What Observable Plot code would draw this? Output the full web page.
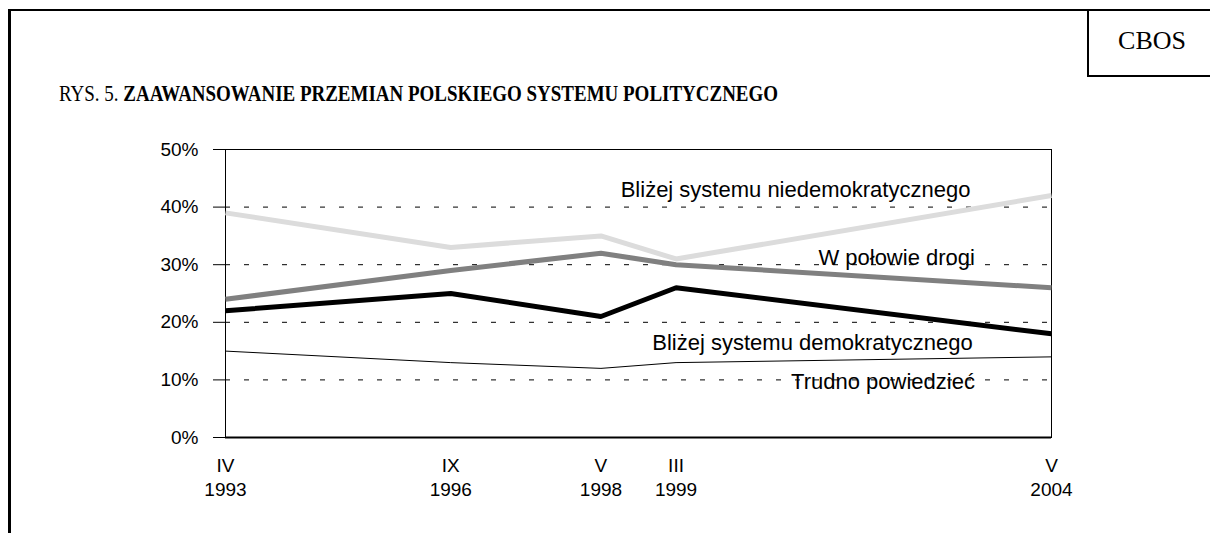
<!DOCTYPE html>
<html>
<head>
<meta charset="utf-8">
<script src="https://cdn.jsdelivr.net/npm/d3@7"></script>
<script src="https://cdn.jsdelivr.net/npm/@observablehq/plot@0.6"></script>
<style>
  html, body { margin: 0; padding: 0; background: #fff; }
  #page { position: relative; width: 1210px; height: 533px; overflow: hidden; }
  #outer { position: absolute; left: 8px; top: 9px; right: -10px; bottom: -10px;
           border-top: 2px solid #000; border-left: 3px solid #000; }
  #cbos { position: absolute; left: 1087px; top: 9px; width: 140px; height: 66px;
          border-left: 2px solid #000; border-bottom: 2px solid #000; }
  #cbos span { position: absolute; left: 63px; top: 32px; transform: translate(-50%, -50%);
               font-family: "Liberation Serif", serif; font-size: 26px; line-height: 26px; color: #000; white-space: nowrap; }
  #title { position: absolute; left: 59px; top: 81px; font-family: "Liberation Serif", serif;
           font-size: 24px; line-height: 24px; color: #000; white-space: nowrap; transform-origin: 0 0; }
  #chart { position: absolute; left: 0; top: 0; }
</style>
</head>
<body>
<div id="page">
  <div id="chart"></div>
  <div id="outer"></div>
  <div id="cbos"><span>CBOS</span></div>
  <div id="title">RYS. 5. <b>ZAAWANSOWANIE PRZEMIAN POLSKIEGO SYSTEMU POLITYCZNEGO</b></div>
</div>
<script>
// Survey periods (category axis with gaps, as in the original category chart)
const months = ["IV", "IX", "V", "III", "V"];
const years = ["1993", "1996", "1998", "1999", "2004"];
const slots = [0, 3, 5, 6, 11];

// Series values (%)
const seriesNames = [
  "Bliżej systemu niedemokratycznego",
  "W połowie drogi",
  "Bliżej systemu demokratycznego",
  "Trudno powiedzieć"
];
const niedemokratyczny = [39, 33, 35, 31, 42];
const wPolowieDrogi = [24, 29, 32, 30, 26];
const demokratyczny = [22, 25, 21, 26, 18];
const trudnoPowiedziec = [15, 13, 12, 13, 14];

const yTicks = [0, 10, 20, 30, 40, 50];
const gridTicks = [10, 20, 30, 40];

// Label anchors (slot, percent)
const labelSlots = [9.92, 9.98, 9.95, 9.98];
const labelValues = [43.0, 31.2, 16.5, 9.7];

const seriesValues = [niedemokratyczny, wPolowieDrogi, demokratyczny, trudnoPowiedziec];
const seriesColors = ["#dcdcdc", "#808080", "#000000", "#000000"];
const seriesWidths = [5, 5, 5, 1];

const rows = [];
seriesNames.forEach((name, s) => {
  seriesValues[s].forEach((v, i) => rows.push({series: name, slot: slots[i], value: v}));
});
const labelRows = seriesNames.map((name, s) => ({text: name, slot: labelSlots[s], value: labelValues[s]}));
const tickLabel = new Map(slots.map((s, i) => [s, months[i] + "\n" + years[i]]));

const lineMarks = seriesNames.map((name, s) =>
  Plot.line(rows.filter(r => r.series === name), {
    x: "slot", y: "value",
    stroke: seriesColors[s], strokeWidth: seriesWidths[s],
    strokeLinejoin: "miter", strokeLinecap: "butt"
  })
);

const chart = Plot.plot({
  width: 1210,
  height: 533,
  marginLeft: 225,
  marginRight: 159,
  marginTop: 149,
  marginBottom: 96,
  style: {fontFamily: "'Liberation Sans', Arial, sans-serif", color: "#000", background: "transparent"},
  x: {type: "linear", domain: [0, 11], axis: null},
  y: {type: "linear", domain: [0, 50], axis: null},
  marks: [
    Plot.ruleY(gridTicks, {stroke: "#000", strokeWidth: 1, strokeDasharray: "5,14"}),
    Plot.ruleY([0], {stroke: "#000", strokeWidth: 2}),
    Plot.frame({stroke: "#000", strokeWidth: 1}),
    Plot.axisY({ticks: yTicks, tickFormat: d => d + "%", tickSize: 12, tickPadding: 15,
                fontSize: 19, stroke: "#000", strokeWidth: 1, label: null}),
    Plot.axisX({ticks: slots, tickFormat: d => tickLabel.get(d), tickSize: 0, tickPadding: 17,
                fontSize: 19, lineHeight: 1.28, label: null}),
    ...lineMarks,
    Plot.text(labelRows, {x: "slot", y: "value", text: "text", textAnchor: "end",
                          fontSize: 22, fill: "#000"})
  ]
});
document.getElementById("chart").appendChild(chart);

// Fit title to original width
const t = document.getElementById("title");
const w = t.getBoundingClientRect().width;
t.style.transform = `scaleX(${719 / w})`;
</script>
</body>
</html>
